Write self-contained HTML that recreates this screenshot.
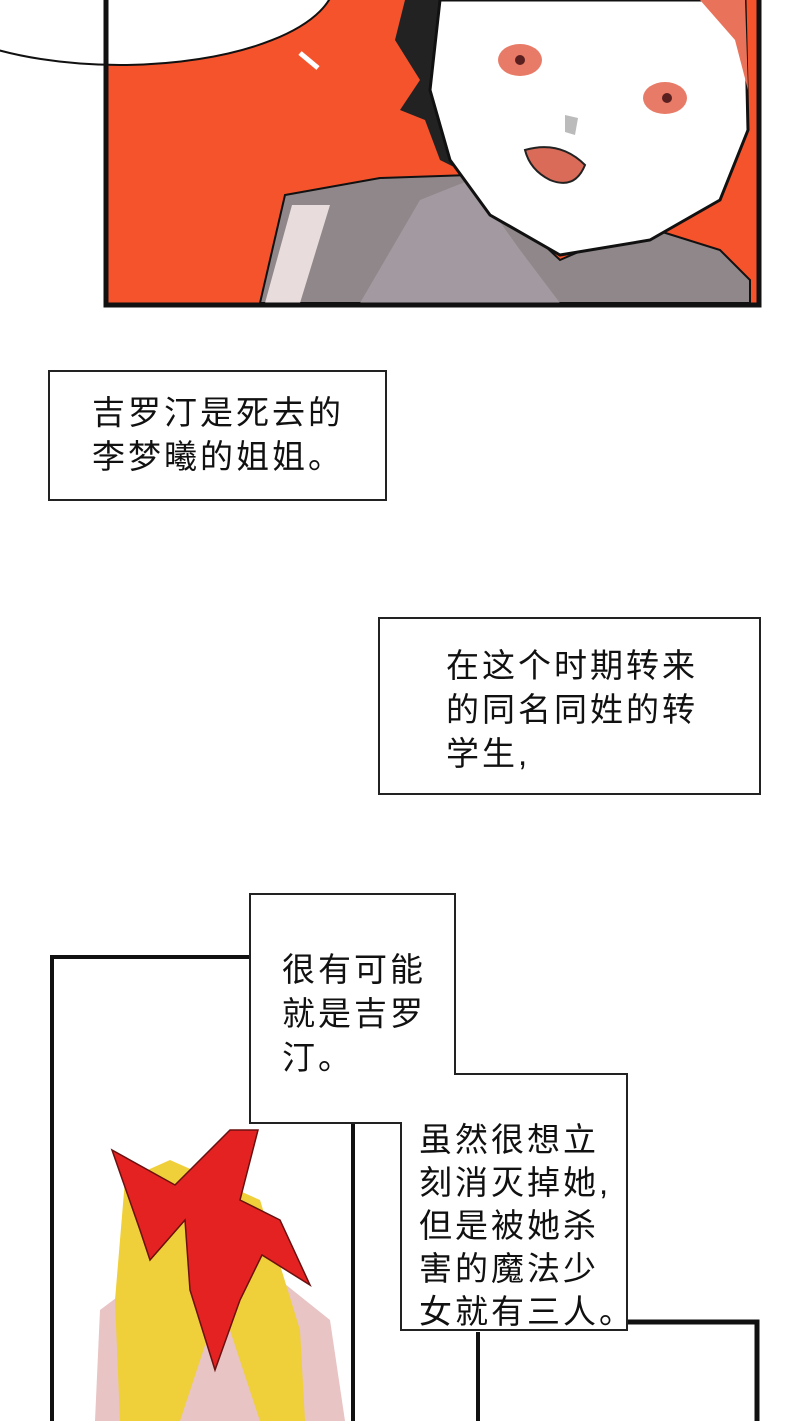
<!DOCTYPE html>
<html><head><meta charset="utf-8"><style>
body{margin:0;width:800px;height:1421px;background:#fff;position:relative;overflow:hidden;font-family:"Liberation Sans","Noto Sans CJK SC",sans-serif}
.box{position:absolute;background:#fff;border:2px solid #222;box-sizing:border-box}
.t{position:absolute;font-size:33px;line-height:44px;color:#111;white-space:nowrap;letter-spacing:3px}
</style></head><body>
<svg width="800" height="1421" style="position:absolute;left:0;top:0">
<rect x="108" y="-5" width="649" height="308" fill="#f4532c"/>
<ellipse cx="120" cy="-20" rx="215" ry="85" fill="#fff" stroke="#111" stroke-width="2"/>
<path d="M300 53 L318 68" stroke="#fff" stroke-width="5"/>
<path d="M260 303 L285 195 L380 178 L470 175 L560 260 L640 225 L720 250 L750 280 L750 303 Z" fill="#8f8789" stroke="#111" stroke-width="2"/>
<path d="M265 303 L292 205 L330 205 L300 303 Z" fill="#e8dcdc"/>
<path d="M360 303 L420 200 L470 180 L520 250 L560 303 Z" fill="#a29aa0"/>
<path d="M405 0 L440 0 L430 90 L460 170 L440 160 L425 120 L400 110 L420 80 L395 40 Z" fill="#222"/>
<path d="M440 0 L745 0 L748 130 L720 200 L650 240 L560 255 L490 215 L450 160 L430 90 Z" fill="#fff" stroke="#111" stroke-width="3"/>
<path d="M700 0 L745 0 L748 90 L735 40 Z" fill="#e8735a"/>
<ellipse cx="520" cy="60" rx="22" ry="16" fill="#e87b67"/>
<circle cx="520" cy="60" r="5" fill="#5a2020"/>
<ellipse cx="665" cy="98" rx="22" ry="16" fill="#e87b67"/>
<circle cx="667" cy="98" r="5" fill="#5a2020"/>
<path d="M525 150 Q560 140 585 165 Q575 190 550 180 Q530 170 525 150Z" fill="#d96b58" stroke="#222" stroke-width="2"/>
<path d="M565 115 L578 118 L575 135 L565 132Z" fill="#bbb"/>
<rect x="106" y="-5" width="653" height="310" fill="none" stroke="#111" stroke-width="5"/>
<path d="M52 1421 L52 957 L252 957" fill="none" stroke="#111" stroke-width="4"/>
<path d="M353 1421 L353 1124" fill="none" stroke="#111" stroke-width="4"/>
<path d="M478 1421 L478 1332" fill="none" stroke="#111" stroke-width="4"/>
<path d="M627 1322 L757 1322 L757 1421" fill="none" stroke="#111" stroke-width="5"/>
<path d="M95 1421 L100 1310 L140 1280 L280 1280 L330 1320 L345 1421 Z" fill="#e8c4c4"/>
<path d="M120 1421 L115 1300 L125 1180 L170 1160 L260 1200 L300 1330 L305 1421 L260 1421 L220 1300 L180 1421Z" fill="#efcf3a"/>
<path d="M112 1150 L175 1185 L230 1130 L258 1130 L240 1200 L280 1220 L310 1285 L262 1255 L240 1300 L215 1370 L190 1290 L185 1220 L150 1260 L140 1230Z" fill="#e52222" stroke="#6a1010" stroke-width="1.5"/>
<path d="M250 894 L455 894 L455 1074 L627 1074 L627 1330 L401 1330 L401 1123 L250 1123 Z" fill="#fff" stroke="#222" stroke-width="2"/>
</svg>
<div class="box" style="left:48px;top:370px;width:339px;height:131px"></div>
<div class="t" style="left:92px;top:391px">吉罗汀是死去的<br>李梦曦的姐姐。</div>
<div class="box" style="left:378px;top:617px;width:383px;height:178px"></div>
<div class="t" style="left:446px;top:644px">在这个时期转来<br>的同名同姓的转<br>学生,</div>
<div class="t" style="left:282px;top:948px">很有可能<br>就是吉罗<br>汀。</div>
<div class="t" style="left:419px;top:1118px;line-height:43px">虽然很想立<br>刻消灭掉她,<br>但是被她杀<br>害的魔法少<br>女就有三人。</div>
</body></html>
